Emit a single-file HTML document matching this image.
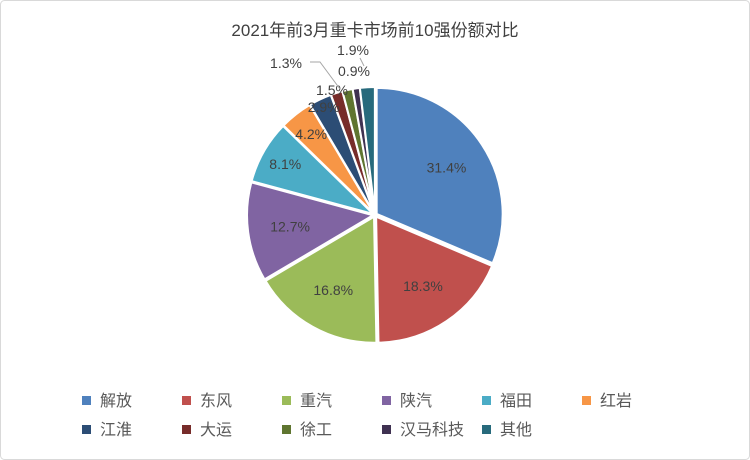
<!DOCTYPE html>
<html><head><meta charset="utf-8"><style>
body{margin:0;background:#fff}
svg{display:block;font-family:"Liberation Sans","Noto Sans CJK SC",sans-serif}
</style></head><body>
<svg width="750" height="460" viewBox="0 0 750 460">
<rect x="0.5" y="0.5" width="749" height="459" rx="4" fill="#fff" stroke="#d9d9d9"/>
<text x="375" y="36" text-anchor="middle" font-size="17" fill="#404040">2021年前3月重卡市场前10强份额对比</text>
<g id="slices"></g><g id="labels"></g><g id="legend"></g>
<polyline points="310,62 320,62 340,89" fill="none" stroke="#a6a6a6"/>
<polyline points="360,58 364,66" fill="none" stroke="#a6a6a6"/>
</svg>
<script>
const categories=["解放","东风","重汽","陕汽","福田","红岩","江淮","大运","徐工","汉马科技","其他"];
const values=[31.4,18.3,16.8,12.7,8.1,4.2,2.9,1.5,1.3,0.9,1.9];
const valueLabels=["31.4%","18.3%","16.8%","12.7%","8.1%","4.2%","2.9%","1.5%","1.3%","0.9%","1.9%"];
const colors=["#4F81BD","#C0504D","#9BBB59","#8064A2","#4BACC6","#F79646","#2C4D75","#772C2A","#5F7530","#3F3151","#276A7C"];
const smallLabelPos={7:[332,95],8:[286,68],9:[354,76],10:[353,55]};
const NS="http://www.w3.org/2000/svg";
const cx=375,cy=215,r=126,ex=2;
const total=values.reduce((a,b)=>a+b,0);
const gs=document.getElementById('slices'),gl=document.getElementById('labels'),gg=document.getElementById('legend');
let a0=0;
values.forEach((v,i)=>{
  const a1=a0+v/total*2*Math.PI, mid=(a0+a1)/2;
  const ox=cx+ex*Math.sin(mid), oy=cy-ex*Math.cos(mid);
  const p=(a)=>[ox+r*Math.sin(a),oy-r*Math.cos(a)];
  const s=p(a0),e=p(a1),large=(a1-a0)>Math.PI?1:0;
  const path=document.createElementNS(NS,'path');
  path.setAttribute('d',`M${ox},${oy}L${s[0]},${s[1]}A${r},${r} 0 ${large} 1 ${e[0]},${e[1]}Z`);
  path.setAttribute('fill',colors[i]);path.setAttribute('stroke','#fff');path.setAttribute('stroke-width','2');
  
  
  gs.appendChild(path);
  let lx,ly;
  if(smallLabelPos[i]){lx=smallLabelPos[i][0];ly=smallLabelPos[i][1];}
  else{const f=v>=10?0.68:(v>=4?0.82:0.95);lx=cx+r*f*Math.sin(mid);ly=cy-r*f*Math.cos(mid)+5;}
  const t=document.createElementNS(NS,'text');
  t.setAttribute('x',lx);t.setAttribute('y',ly);t.setAttribute('text-anchor','middle');
  t.setAttribute('font-size','14');t.setAttribute('fill','#404040');
  
  
  t.textContent=valueLabels[i];gl.appendChild(t);
  a0=a1;
});
categories.forEach((c,i)=>{
  const col=i%6,row=Math.floor(i/6);
  const x=82+col*100,y=396+row*29;
  const g=document.createElementNS(NS,'g');
  
  
  const sq=document.createElementNS(NS,'rect');
  sq.setAttribute('x',x);sq.setAttribute('y',y);sq.setAttribute('width',9);sq.setAttribute('height',9);sq.setAttribute('fill',colors[i]);
  const t=document.createElementNS(NS,'text');
  t.setAttribute('x',x+18);t.setAttribute('y',y+10);t.setAttribute('font-size','16');t.setAttribute('fill','#595959');
  t.textContent=c;
  g.appendChild(sq);g.appendChild(t);gg.appendChild(g);
});
</script>
</body></html>
